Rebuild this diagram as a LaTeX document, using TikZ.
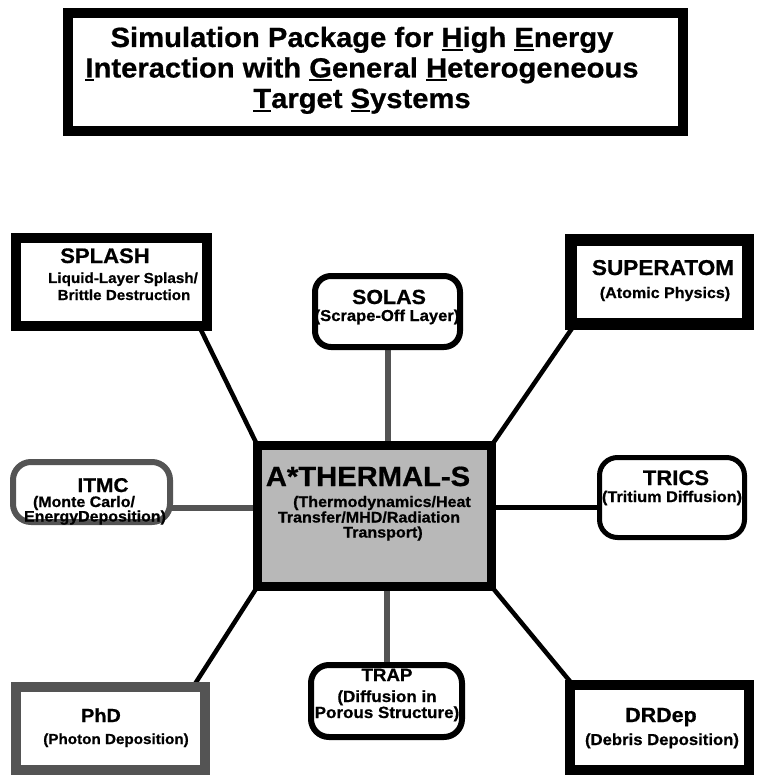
\documentclass[tikz,border=0pt]{standalone}
\usepackage{fontspec}
\setmainfont{Liberation Sans}[FakeStretch=1.05, BoldFeatures={FakeBold=0.7}]
\usetikzlibrary{backgrounds}
\definecolor{halftone}{gray}{0.33}
\definecolor{centerfill}{gray}{0.72}
\newcommand\myfs[1]{\fontsize{#1}{#1}\selectfont\bfseries}
\newcommand\ulx[1]{\setbox0=\hbox{#1}\rlap{\rule[-4pt]{\wd0}{2.2pt}}\box0}
\tikzset{
  sqbox/.style={draw=black, fill=white, rectangle, inner sep=0pt, outer sep=0pt},
  rbox/.style={draw=black, fill=white, rectangle, rounded corners=16pt, inner sep=0pt, outer sep=0pt},
  lbl/.style={anchor=base, inner sep=0pt, outer sep=0pt},
  blackline/.style={draw=black, line width=4.5pt},
  grayline/.style={draw=halftone, line width=6pt},
}
\begin{document}
\begin{tikzpicture}[x=1pt,y=-1pt]
\useasboundingbox (0,0) rectangle (756,775);

% title
\node[sqbox, line width=10pt, minimum width=615pt, minimum height=118pt] (title) at (375.5,72) {};
\node[lbl] (t1) at (362,47) {\myfs{27.8}Simulation Package for \ulx{H}igh \ulx{E}nergy};
\node[lbl] (t2) at (362,77.5) {\myfs{27.8}\ulx{I}nteraction with \ulx{G}eneral \ulx{H}eterogeneous};
\node[lbl] (t3) at (362,108) {\myfs{27.8}\ulx{T}arget \ulx{S}ystems};

% boxes
\node[sqbox, line width=10pt, minimum width=191pt, minimum height=88pt] (splash) at (111.5,282) {};
\node[rbox, line width=6pt, minimum width=145pt, minimum height=71pt] (solas) at (387.5,311.5) {};
\node[sqbox, line width=12pt, minimum width=177pt, minimum height=84pt] (superatom) at (659.5,282) {};
\node[sqbox, line width=9pt, fill=centerfill, minimum width=234pt, minimum height=141pt] (center) at (374.5,516) {};
\node[rbox, draw=halftone, line width=6pt, rounded corners=18pt, minimum width=157pt, minimum height=60pt] (itmc) at (91.5,492) {};
\node[rbox, line width=5pt, rounded corners=18pt, minimum width=145pt, minimum height=80pt] (trics) at (672,497.5) {};
\node[sqbox, draw=halftone, line width=10pt, minimum width=189pt, minimum height=83pt] (phd) at (110.5,728.5) {};
\node[rbox, line width=6pt, rounded corners=18pt, minimum width=151pt, minimum height=72pt] (trap) at (386.5,701) {};
\node[sqbox, line width=10pt, minimum width=179pt, minimum height=85pt] (drdep) at (659.5,727.5) {};

% connectors
\begin{pgfonlayer}{background}
\fill[white] (0,0) rectangle (756,775);
\draw[blackline] ([xshift=-8pt]splash.south east) -- (center.north west);
\draw[blackline] ([xshift=4pt]superatom.south west) -- (center.north east);
\draw[blackline] ([xshift=-12pt]phd.north east) -- (center.south west);
\draw[blackline] ([xshift=3pt]drdep.north west) -- (center.south east);
\draw[grayline] (solas.south) -- (solas.south |- center.north);
\draw[grayline] (trap.north) -- (trap.north |- center.south);
\draw[grayline] ([yshift=-16pt]itmc.east) -- ([yshift=-16pt]itmc.east -| center.west);
\draw[draw=black, line width=5pt] ([yshift=-9.5pt]trics.west) -- ([yshift=-9.5pt]trics.west -| center.east);
\end{pgfonlayer}

% texts
\node[lbl] (splashA) at (105,263) {\myfs{21}SPLASH};
\node[lbl] (splashB) at (123,283) {\myfs{14.5}Liquid-Layer Splash/};
\node[lbl] (splashC) at (124,300) {\myfs{14.5}Brittle Destruction};

\node[lbl] (solasA) at (389,304) {\myfs{20.4}SOLAS};
\node[lbl] (solasB) at (387,321) {\myfs{15.8}(Scrape-Off Layer)};

\node[lbl] (superA) at (663,275) {\myfs{21.5}SUPERATOM};
\node[lbl] (superB) at (665,298) {\myfs{15.3}(Atomic Physics)};

\node[lbl] (cA) at (368,486) {\myfs{27.8}A*THERMAL-S};
\node[lbl] (c1) at (382,507) {\myfs{15.3}(Thermodynamics/Heat};
\node[lbl] (c2) at (369,522.5) {\myfs{15.3}Transfer/MHD/Radiation};
\node[lbl] (c3) at (383,537.5) {\myfs{15.3}Transport)};

\node[lbl] (itmcA) at (103,492) {\myfs{19.9}ITMC};
\node[lbl] (itmcB) at (84,507) {\myfs{15.2}(Monte Carlo/};
\node[lbl] (itmcC) at (95,521.5) {\myfs{15.2}EnergyDeposition)};

\node[lbl] (tricsA) at (676,485) {\myfs{21}TRICS};
\node[lbl] (tricsB) at (672,502) {\myfs{15.5}(Tritium Diffusion)};

\node[lbl] (phdA) at (101,722) {\myfs{18.9}PhD};
\node[lbl] (phdB) at (116,744) {\myfs{14.5}(Photon Deposition)};

\node[lbl] (trapA) at (387,681) {\myfs{17.8}TRAP};
\node[lbl] (trapB) at (387,702) {\myfs{16.2}(Diffusion in};
\node[lbl] (trapC) at (387,718) {\myfs{16.2}Porous Structure)};

\node[lbl] (drdepA) at (661,722) {\myfs{20.4}DRDep};
\node[lbl] (drdepB) at (662,745) {\myfs{15.9}(Debris Deposition)};
\end{tikzpicture}
\end{document}
